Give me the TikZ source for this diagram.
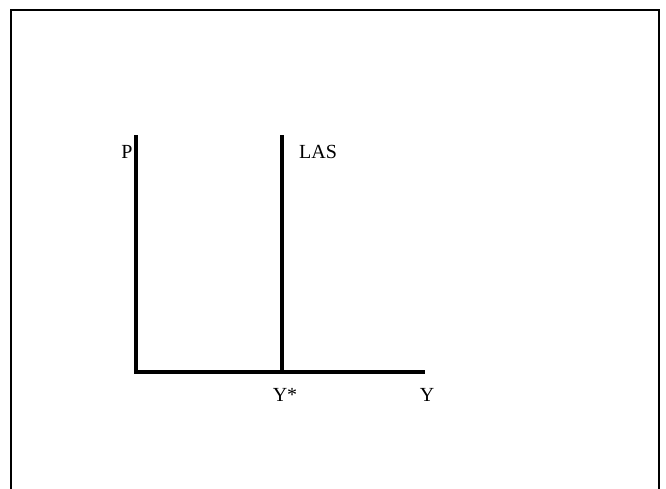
\documentclass[tikz,border=0pt]{standalone}
\usepackage{fontspec}
\setmainfont{Liberation Serif}
\begin{document}
\begin{tikzpicture}[x=1pt,y=-1pt,
  axis/.style={line width=3.2pt},
  frame/.style={line width=2.2pt},
  lbl/.style={font=\fontsize{20}{24}\selectfont, inner sep=0pt}]
\useasboundingbox (0,0) rectangle (666,488);
\draw[frame] (11,496) -- (11,10) -- (659,10) -- (659,496);
\coordinate (top) at (136,135);
\coordinate (origin) at (136,372);
\coordinate (xend) at (425,372);
\coordinate (lastop) at (282,135);
\coordinate (lasbot) at (282,372);
\draw[axis] (top) -- (origin) -- (xend);
\draw[axis] (lastop) -- (lasbot);
\node[lbl] (P) at (127,152) {P};
\node[lbl] (LAS) at (318,152) {LAS};
\node[lbl] (Ystar) at (285,395) {Y*};
\node[lbl] (Y) at (427,395) {Y};
\end{tikzpicture}
\end{document}
